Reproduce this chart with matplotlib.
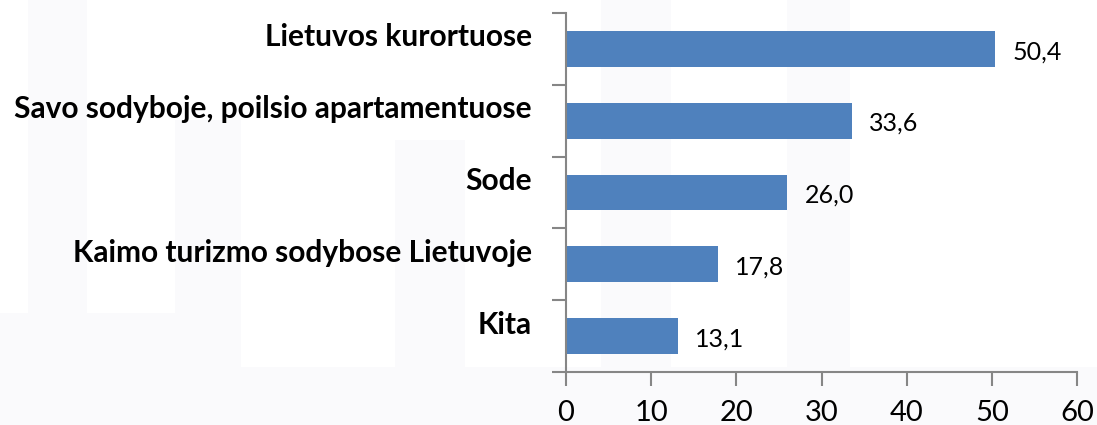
import matplotlib
matplotlib.use("Agg")
import matplotlib.pyplot as plt
import matplotlib.transforms as mtransforms
from matplotlib.ticker import FixedLocator
from matplotlib.patches import Rectangle

categories = ["Lietuvos kurortuose", "Savo sodyboje, poilsio apartamentuose", "Sode",
              "Kaimo turizmo sodybose Lietuvoje", "Kita"]
values = [50.4, 33.6, 26.0, 17.8, 13.1]
value_labels = ["50,4", "33,6", "26,0", "17,8", "13,1"]
xticks = [0, 10, 20, 30, 40, 50, 60]

plt.rcParams['font.family'] = ['Lato', 'DejaVu Sans']

W, H = 1097, 425
fig = plt.figure(figsize=(W / 100, H / 100), dpi=100)

# faint watermark background
wm = "#FAFAFC"
for x0, x1, y0 in [(28, 87, 0), (175, 241, 120), (395, 465, 140), (601, 671, 0), (787, 850, 0)]:
    fig.patches.append(Rectangle((x0 / W, 0), (x1 - x0) / W, 1 - y0 / H,
                                 transform=fig.transFigure, color=wm, zorder=-10, lw=0))
fig.patches.append(Rectangle((0, 0), 230 / W, 1 - 313 / H, transform=fig.transFigure,
                             color=wm, zorder=-10, lw=0))
fig.patches.append(Rectangle((0, 0), 1, 1 - 367 / H, transform=fig.transFigure,
                             color=wm, zorder=-10, lw=0))

ax = fig.add_axes([566 / W, 1 - 372 / H, (1077 - 566) / W, (372 - 13) / H])
ax.set_facecolor("none")
ax.set_zorder(5)

n = len(categories)
ypos = list(range(n))[::-1]
ax.barh(ypos, values, height=0.5, color="#4F81BD")
for y, v, lab in zip(ypos, values, value_labels):
    ax.text(v + 2.0, y - 0.04, lab, va="center", ha="left", fontsize=18, color="black")

ax.set_xlim(0, 60)
ax.set_ylim(-0.5, n - 0.5)
ax.set_xticks(xticks)
ax.set_xticklabels([str(t) for t in xticks], fontsize=21)
ax.set_yticks(ypos)
ax.set_yticklabels([])
# category labels, placed slightly above the bar centres as in the reference
shift = mtransforms.ScaledTranslation(-34 / 100, 14 / 100, fig.dpi_scale_trans)
trans = ax.get_yaxis_transform() + shift
for y, cat in zip(ypos, categories):
    ax.text(0, y, cat, transform=trans, ha="right", va="center_baseline",
            fontsize=21.5, fontweight="bold", clip_on=False)
ax.yaxis.set_minor_locator(FixedLocator([i - 0.5 for i in range(n + 1)]))
ax.tick_params(axis="y", which="major", length=0)
ax.tick_params(axis="y", which="minor", length=10, width=1.5, color="#868686")
ax.tick_params(axis="x", which="major", length=10, width=1.5, color="#868686", pad=10)
for s in ["top", "right"]:
    ax.spines[s].set_visible(False)
for s in ["left", "bottom"]:
    ax.spines[s].set_color("#868686")
    ax.spines[s].set_linewidth(1.5)

fig.savefig("out.png", dpi=100)
